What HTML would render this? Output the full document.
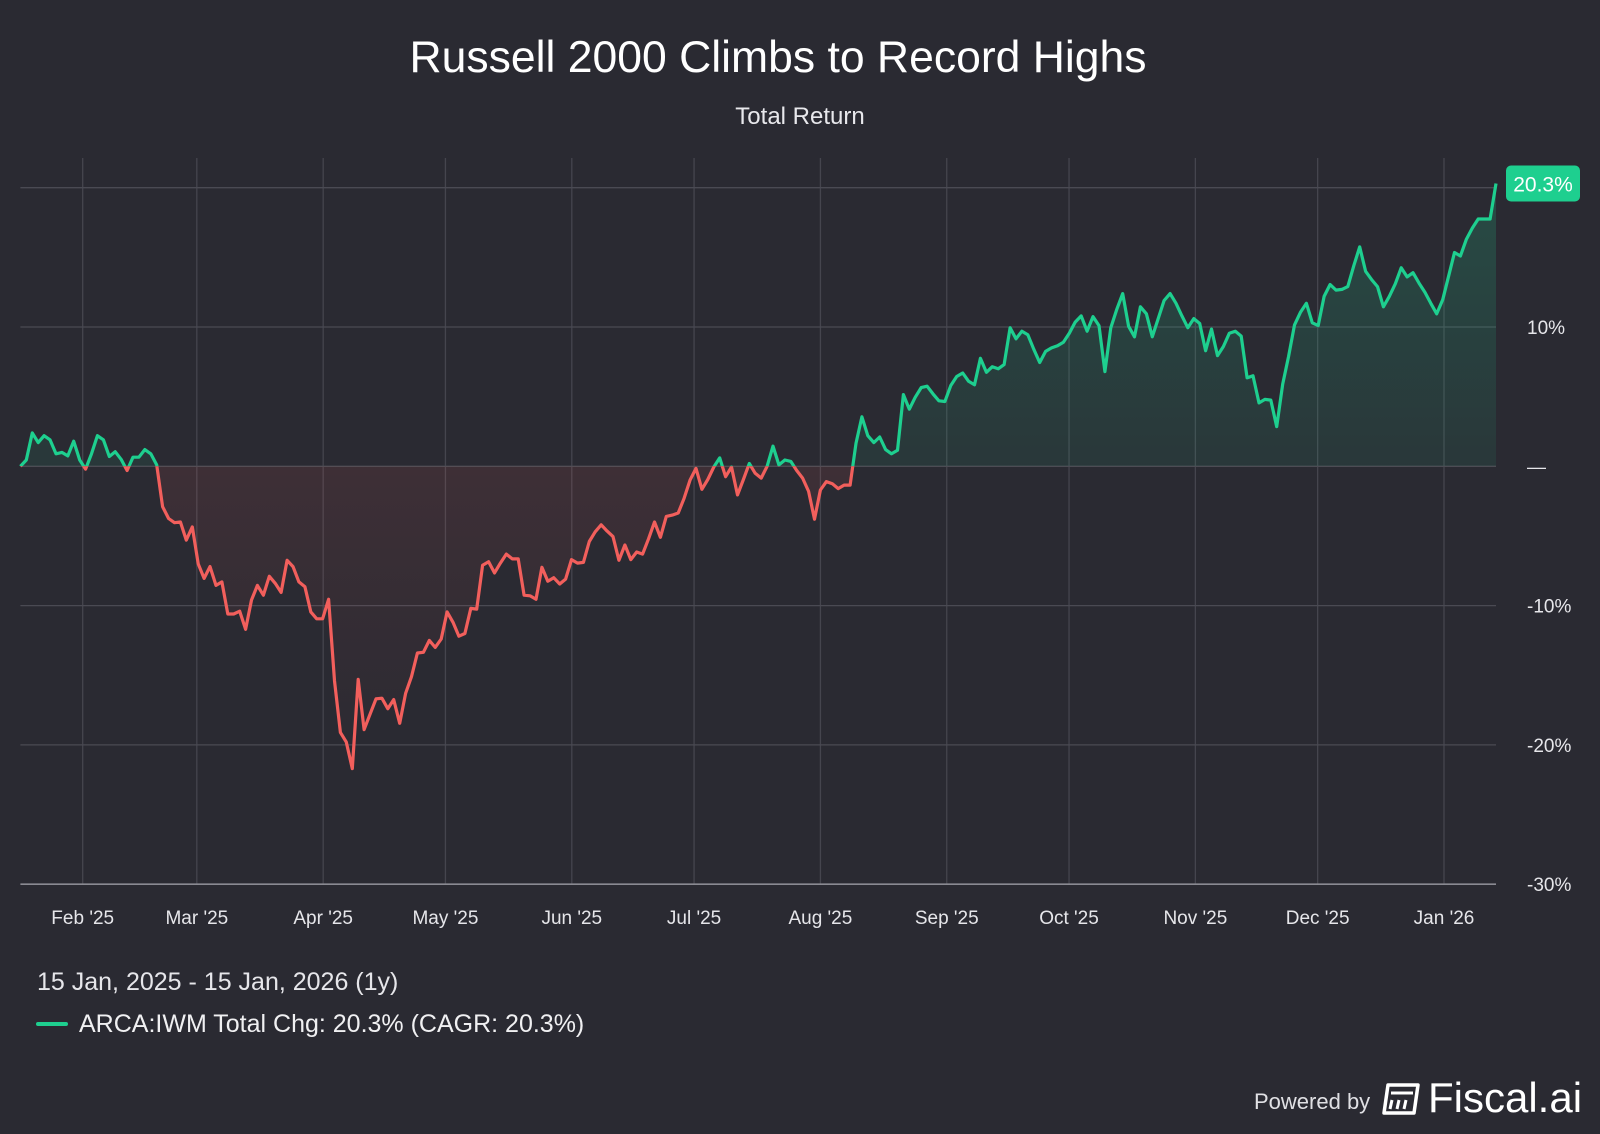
<!DOCTYPE html>
<html><head><meta charset="utf-8"><style>
html,body{margin:0;padding:0;background:#2a2a32;}
body{width:1600px;height:1134px;overflow:hidden;font-family:"Liberation Sans",sans-serif;color:#fff;position:relative;}
.t{position:absolute;white-space:nowrap;}
</style></head><body>
<div class="t" style="left:0;width:1556px;text-align:center;top:33px;font-size:44.5px;">Russell 2000 Climbs to Record Highs</div>
<div class="t" style="left:0;width:1600px;text-align:center;top:103px;font-size:24px;color:#e8e8ec;">Total Return</div>
<svg id="chart" width="1600" height="960" style="position:absolute;left:0;top:0;"></svg>
<div class="t" style="left:37px;top:968px;font-size:25px;color:#e6e6ea;">15 Jan, 2025 - 15 Jan, 2026 (1y)</div>
<div style="position:absolute;left:36px;top:1010px;">
<span style="position:absolute;left:0;top:12px;width:32px;height:4px;border-radius:2px;background:#1ecf8f;"></span>
<span class="t" style="left:43px;top:0;font-size:25px;color:#f0f0f2;">ARCA:IWM Total Chg: 20.3% (CAGR: 20.3%)</span>
</div>
<div class="t" style="left:1254px;top:1089px;font-size:22px;color:#e0e0e4;">Powered by</div>
<svg width="40" height="34" style="position:absolute;left:1382px;top:1082px;">
<path d="M6 3 H36 L32 31 H2 Z" fill="none" stroke="#fff" stroke-width="3.5" stroke-linejoin="round"/>
<path d="M9 11 H31 M10 18 L8 27 M17 18 L15 27 M24 18 L22 27" stroke="#fff" stroke-width="3"/>
</svg>
<div class="t" style="left:1428px;top:1074px;font-size:42px;">Fiscal.ai</div>
<script>
const values=[0.0,0.45,2.4,1.7,2.2,1.9,0.9,1.0,0.75,1.8,0.45,-0.2,0.9,2.2,1.9,0.7,1.05,0.5,-0.3,0.65,0.65,1.2,0.9,0.1,
-2.9,-3.75,-4.05,-4.0,-5.3,-4.35,-7.0,-8.05,-7.2,-8.55,-8.3,-10.6,-10.6,-10.4,-11.7,-9.6,-8.55,-9.25,-7.9,-8.4,-9.05,-6.75,-7.2,-8.3,-8.65,-10.45,-10.95,-10.95,-9.55,-15.4,-19.1,-19.8,-21.7,-15.3,-18.9,-17.8,-16.7,-16.65,-17.4,-16.75,-18.45,-16.3,-15.1,-13.4,-13.35,-12.5,
-13.0,-12.4,-10.45,-11.2,-12.2,-12.0,-10.2,-10.25,-7.1,-6.85,-7.65,-6.95,-6.3,-6.65,-6.65,-9.25,-9.3,-9.55,-7.25,-8.25,-8.0,-8.45,-8.1,-6.7,-6.95,-6.9,-5.4,-4.7,-4.2,-4.65,-5.05,-6.75,-5.65,-6.7,-6.15,-6.3,-5.2,-4.0,-5.1,-3.6,-3.5,-3.35,-2.3,-1.0,-0.15,-1.65,-0.95,-0.05,0.6,-0.75,-0.05,-2.05,-0.95,0.2,-0.5,-0.85,0.0,1.45,0.1,0.45,0.35,-0.3,-0.85,-1.8,-3.8,-1.7,-1.1,-1.25,-1.6,-1.35,-1.35,1.65,3.55,
2.2,1.7,2.1,1.2,0.9,1.15,5.15,4.1,4.95,5.65,5.75,5.2,4.7,4.65,5.8,6.45,6.7,6.1,5.85,7.75,6.75,7.15,7.0,7.3,9.95,9.15,9.7,9.45,8.4,7.45,8.25,8.5,8.65,8.9,9.55,10.35,10.8,9.7,10.75,10.1,6.8,9.95,11.25,12.4,10.05,9.3,11.45,10.95,9.3,10.6,11.9,12.4,11.7,10.8,9.95,10.6,10.25,
8.3,9.85,7.95,8.6,9.55,9.7,9.35,6.35,6.5,4.55,4.8,4.75,2.85,5.9,7.9,10.15,11.05,11.7,10.3,10.1,12.2,13.05,12.65,12.7,12.9,14.4,15.75,14.0,13.4,12.9,11.45,12.2,13.1,14.25,13.6,13.9,13.15,12.5,11.7,10.95,11.95,13.65,15.35,15.1,16.3,17.1,17.75,17.75,17.75,20.3];
const monthLabels=["Feb '25","Mar '25","Apr '25","May '25","Jun '25","Jul '25","Aug '25","Sep '25","Oct '25","Nov '25","Dec '25","Jan '26"];
const monthDates=["2025-02-01","2025-03-01","2025-04-01","2025-05-01","2025-06-01","2025-07-01","2025-08-01","2025-09-01","2025-10-01","2025-11-01","2025-12-01","2026-01-01"];
const yTicks=[20,10,0,-10,-20,-30];
const yTickLabels=["","10%","—","-10%","-20%","-30%"];
const lastLabel="20.3%";

const NS="http://www.w3.org/2000/svg";
const svg=document.getElementById('chart');
const X0=20.4,X1=1496,Y0=466.3,PXP=13.93;
const yS=v=>Y0-v*PXP;
const xI=i=>X0+i*(X1-X0)/(values.length-1);
const d0=Date.parse("2025-02-01"),dEnd=Date.parse("2026-01-01");
const xD=s=>82.7+(Date.parse(s)-d0)/(dEnd-d0)*(1444-82.7);
function mk(t,a){const e=document.createElementNS(NS,t);for(const k in a)e.setAttribute(k,a[k]);svg.appendChild(e);return e;}
const defs=mk('defs',{});
defs.innerHTML='<clipPath id="cu"><rect x="0" y="0" width="1600" height="'+Y0+'"/></clipPath><clipPath id="cd"><rect x="0" y="'+Y0+'" width="1600" height="600"/></clipPath>'+
'<linearGradient id="gg" x1="0" y1="'+yS(20)+'" x2="0" y2="'+Y0+'" gradientUnits="userSpaceOnUse"><stop offset="0" stop-color="#1ecf8f" stop-opacity="0.2"/><stop offset="1" stop-color="#1ecf8f" stop-opacity="0.08"/></linearGradient>'+
'<linearGradient id="gr" x1="0" y1="'+Y0+'" x2="0" y2="'+yS(-22)+'" gradientUnits="userSpaceOnUse"><stop offset="0" stop-color="#f25f5c" stop-opacity="0.1"/><stop offset="1" stop-color="#f25f5c" stop-opacity="0.0"/></linearGradient>';
monthDates.forEach((d,i)=>{
  const x=xD(d);
  const g=mk('line',{x1:x,x2:x,y1:158,y2:yS(-30),stroke:'#45454e','stroke-width':1.3});
  
  
  const t=mk('text',{x:x,y:924,fill:'#e6e6ea','font-size':19,'text-anchor':'middle','font-family':'Liberation Sans, sans-serif'});
  t.textContent=monthLabels[i];
  
  
});
yTicks.forEach((v,i)=>{
  const y=yS(v);
  const g=mk('line',{x1:X0,x2:X1,y1:y,y2:y,stroke:v===-30?'#8a8a92':'#4a4a53','stroke-width':v===-30?1.6:1.3});
  
  
  const t=mk('text',{x:1527,y:y+7,fill:'#e6e6ea','font-size':19,'font-family':'Liberation Sans, sans-serif'});
  t.textContent=yTickLabels[i];
  
  
});
let pts=values.map((v,i)=>xI(i).toFixed(1)+','+yS(v).toFixed(1));
const lineD='M'+pts.join('L');
const areaD=lineD+'L'+xI(values.length-1)+','+Y0+'L'+X0+','+Y0+'Z';
const a1=mk('path',{d:areaD,fill:'url(#gg)','clip-path':'url(#cu)'});


const a2=mk('path',{d:areaD,fill:'url(#gr)','clip-path':'url(#cd)'});


const l1=mk('path',{d:lineD,fill:'none',stroke:'#1ecf8f','stroke-width':3.2,'stroke-linejoin':'round','clip-path':'url(#cu)'});


const l2=mk('path',{d:lineD,fill:'none',stroke:'#f25f5c','stroke-width':3.2,'stroke-linejoin':'round','clip-path':'url(#cd)'});


const by=yS(values[values.length-1]);
const b=mk('rect',{x:1506,y:by-18,width:74,height:36,rx:5,fill:'#1ecf8f'});


const bt=mk('text',{x:1543,y:by+8,fill:'#fff','font-size':21,'text-anchor':'middle','font-family':'Liberation Sans, sans-serif'});
bt.textContent=lastLabel;


</script>
</body></html>
